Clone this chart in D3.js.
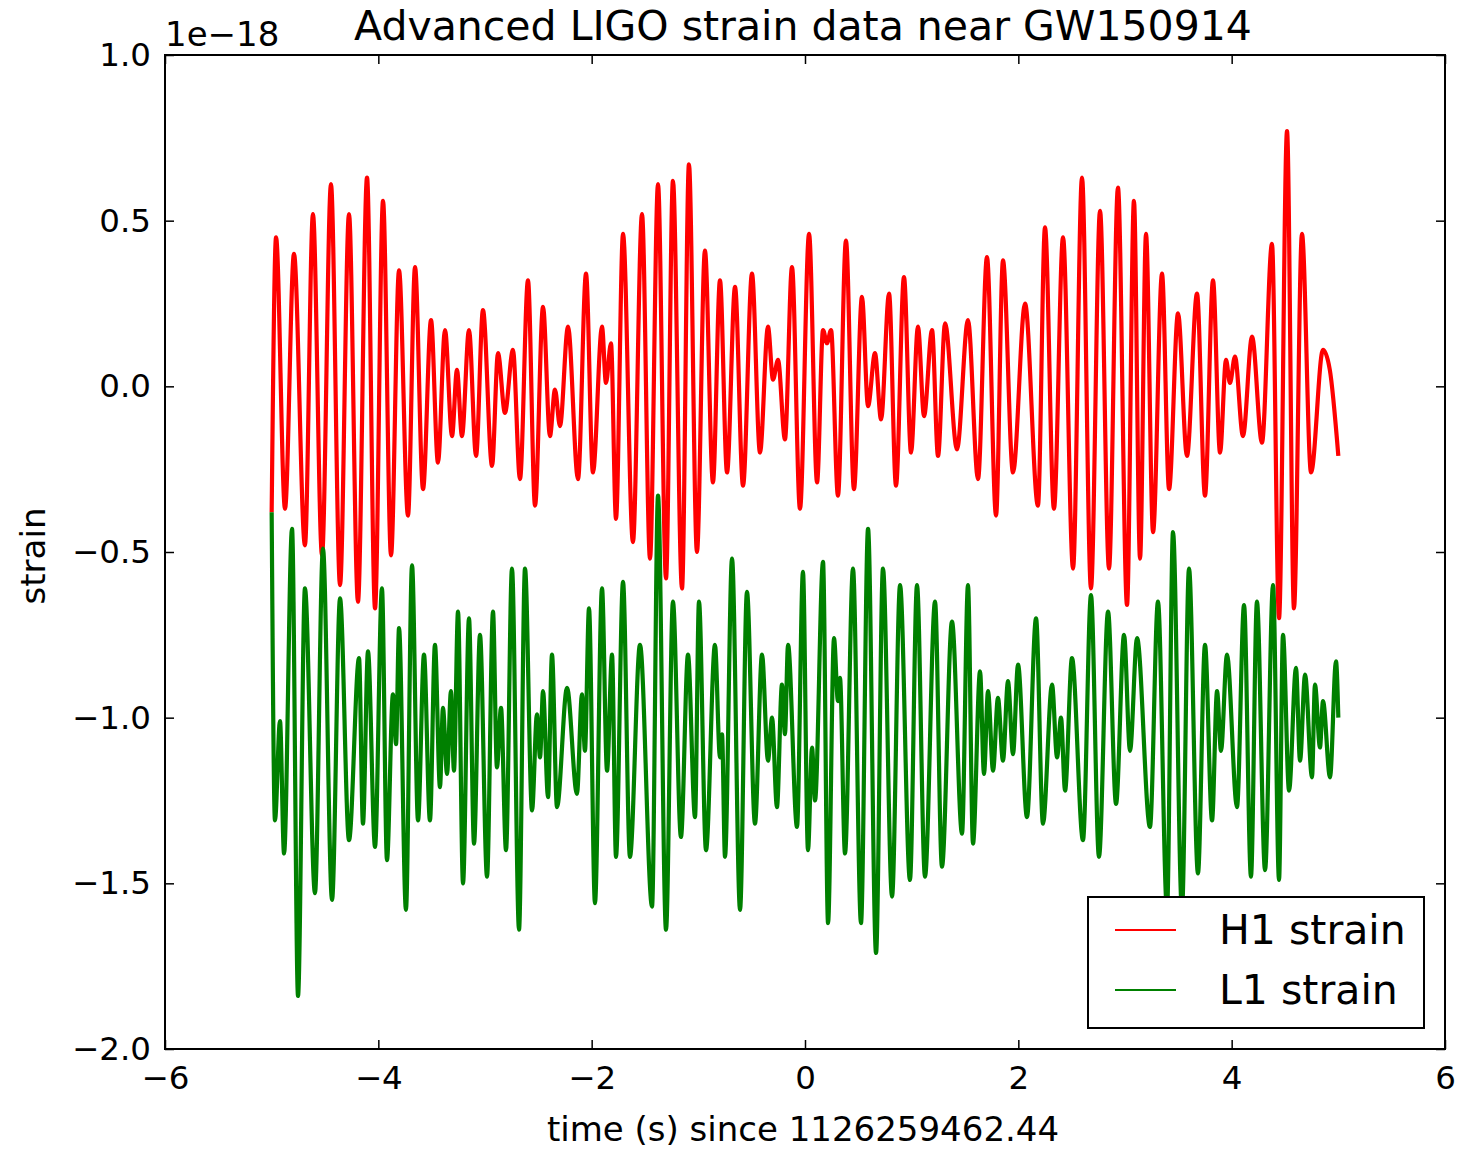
<!DOCTYPE html>
<html>
<head>
<meta charset="utf-8">
<script src="https://cdn.jsdelivr.net/npm/d3@7/dist/d3.min.js"></script>
<style>
  html, body { margin: 0; padding: 0; background: #fff; }
  text { font-family: "DejaVu Sans", sans-serif; fill: #000; }
</style>
</head>
<body>
<svg id="chart" width="1458" height="1149"></svg>
<script>
// ---- data (strain in units of 1e-18, time in s since 1126259462.44) ----
const h1Time = [-5.000,-4.959,-4.875,-4.791,-4.688,-4.613,-4.528,-4.444,-4.359,-4.275,
  -4.191,-4.106,-4.031,-3.956,-3.881,-3.806,-3.722,-3.656,-3.581,-3.506,
  -3.441,-3.375,-3.309,-3.263,-3.216,-3.150,-3.084,-3.019,-2.934,-2.878,
  -2.813,-2.738,-2.672,-2.597,-2.531,-2.456,-2.391,-2.344,-2.297,-2.222,
  -2.128,-2.053,-1.988,-1.903,-1.866,-1.819,-1.772,-1.706,-1.613,-1.528,
  -1.453,-1.378,-1.303,-1.238,-1.153,-1.088,-1.013,-0.938,-0.863,-0.797,
  -0.731,-0.656,-0.581,-0.497,-0.422,-0.347,-0.300,-0.253,-0.188,-0.122,
  -0.047,0.038,0.113,0.169,0.206,0.244,0.309,0.384,0.459,0.534,
  0.591,0.656,0.713,0.788,0.853,0.928,0.994,1.059,1.116,1.191,
  1.247,1.313,1.425,1.528,1.622,1.706,1.791,1.856,1.950,2.063,
  2.184,2.250,2.334,2.419,2.513,2.597,2.681,2.766,2.850,2.934,
  3.019,3.084,3.141,3.197,3.263,3.347,3.413,3.497,3.581,3.675,
  3.750,3.825,3.891,3.947,3.984,4.031,4.106,4.191,4.284,4.378,
  4.444,4.519,4.584,4.659,4.744,4.856,4.920,5.000];
const h1Strain = [-0.38,0.45,-0.37,0.40,-0.48,0.52,-0.51,0.61,-0.60,0.52,
  -0.65,0.63,-0.67,0.56,-0.51,0.35,-0.39,0.36,-0.31,0.20,
  -0.23,0.17,-0.15,0.05,-0.15,0.17,-0.21,0.23,-0.24,0.10,
  -0.08,0.11,-0.28,0.32,-0.36,0.24,-0.15,-0.01,-0.12,0.18,
  -0.28,0.34,-0.26,0.18,0.01,0.13,-0.40,0.46,-0.47,0.52,
  -0.52,0.61,-0.58,0.62,-0.61,0.67,-0.50,0.41,-0.29,0.32,
  -0.26,0.30,-0.30,0.34,-0.20,0.18,0.02,0.08,-0.16,0.36,
  -0.37,0.46,-0.29,0.17,0.13,0.17,-0.33,0.44,-0.31,0.27,
  -0.06,0.10,-0.10,0.28,-0.30,0.33,-0.20,0.18,-0.09,0.17,
  -0.21,0.19,-0.19,0.20,-0.28,0.39,-0.39,0.38,-0.26,0.25,
  -0.36,0.48,-0.37,0.45,-0.55,0.63,-0.61,0.53,-0.55,0.60,
  -0.66,0.56,-0.52,0.46,-0.44,0.34,-0.31,0.22,-0.21,0.28,
  -0.33,0.32,-0.20,0.08,0.01,0.09,-0.15,0.15,-0.17,0.43,
  -0.70,0.77,-0.67,0.46,-0.26,0.11,0.05,-0.21];

const l1Time = [-5.000,-4.969,-4.922,-4.884,-4.809,-4.753,-4.688,-4.594,-4.519,-4.434,
  -4.359,-4.275,-4.181,-4.144,-4.097,-4.031,-3.966,-3.919,-3.863,-3.834,
  -3.806,-3.741,-3.684,-3.628,-3.572,-3.516,-3.469,-3.422,-3.394,-3.356,
  -3.319,-3.291,-3.253,-3.206,-3.150,-3.103,-3.047,-2.981,-2.925,-2.888,
  -2.850,-2.803,-2.747,-2.681,-2.625,-2.559,-2.513,-2.484,-2.456,-2.409,
  -2.372,-2.325,-2.231,-2.138,-2.091,-2.063,-2.025,-1.969,-1.903,-1.856,
  -1.809,-1.772,-1.706,-1.641,-1.547,-1.434,-1.378,-1.303,-1.238,-1.163,
  -1.097,-1.031,-0.994,-0.928,-0.844,-0.797,-0.778,-0.750,-0.684,-0.609,
  -0.544,-0.469,-0.403,-0.347,-0.309,-0.263,-0.216,-0.188,-0.159,-0.075,
  -0.019,0.028,0.066,0.094,0.169,0.216,0.272,0.309,0.328,0.375,
  0.450,0.525,0.591,0.666,0.731,0.816,0.891,0.984,1.050,1.125,
  1.219,1.284,1.378,1.472,1.528,1.575,1.641,1.678,1.716,1.763,
  1.809,1.856,1.903,1.950,1.997,2.081,2.166,2.231,2.316,2.363,
  2.400,2.438,2.503,2.606,2.681,2.756,2.841,2.916,2.991,3.047,
  3.113,3.234,3.309,3.394,3.450,3.534,3.600,3.684,3.750,3.816,
  3.863,3.900,3.956,4.050,4.116,4.181,4.237,4.313,4.388,4.444,
  4.481,4.538,4.603,4.641,4.688,4.753,4.781,4.828,4.856,4.922,
  4.978,5.000];
const l1Strain = [-0.38,-1.31,-1.01,-1.41,-0.43,-1.84,-0.61,-1.53,-0.49,-1.55,
  -0.64,-1.37,-0.82,-1.32,-0.80,-1.39,-0.61,-1.43,-0.93,-1.08,
  -0.73,-1.58,-0.54,-1.31,-0.81,-1.31,-0.78,-1.21,-0.97,-1.17,
  -0.92,-1.16,-0.68,-1.50,-0.70,-1.38,-0.75,-1.48,-0.68,-1.15,
  -0.97,-1.40,-0.55,-1.64,-0.55,-1.28,-0.99,-1.12,-0.92,-1.24,
  -0.81,-1.27,-0.91,-1.23,-0.93,-1.10,-0.67,-1.56,-0.61,-1.16,
  -0.81,-1.42,-0.59,-1.42,-0.78,-1.57,-0.33,-1.64,-0.65,-1.36,
  -0.81,-1.30,-0.65,-1.40,-0.78,-1.12,-1.05,-1.42,-0.52,-1.58,
  -0.62,-1.32,-0.81,-1.13,-1.00,-1.27,-0.90,-1.05,-0.78,-1.33,
  -0.56,-1.40,-1.09,-1.25,-0.53,-1.62,-0.76,-0.95,-0.88,-1.41,
  -0.55,-1.62,-0.43,-1.71,-0.55,-1.54,-0.60,-1.49,-0.60,-1.48,
  -0.65,-1.45,-0.71,-1.35,-0.60,-1.38,-0.86,-1.17,-0.92,-1.16,
  -0.94,-1.13,-0.89,-1.11,-0.84,-1.30,-0.70,-1.32,-0.90,-1.12,
  -1.00,-1.22,-0.82,-1.37,-0.63,-1.42,-0.68,-1.26,-0.75,-1.10,
  -0.76,-1.33,-0.65,-1.58,-0.44,-1.58,-0.55,-1.47,-0.78,-1.31,
  -0.92,-1.10,-0.81,-1.27,-0.66,-1.48,-0.65,-1.46,-0.60,-1.49,
  -0.75,-1.22,-0.85,-1.13,-0.87,-1.18,-0.90,-1.09,-0.95,-1.18,
  -0.83,-1.00];

const xTicks = [-6, -4, -2, 0, 2, 4, 6];
const yTicks = [1.0, 0.5, 0.0, -0.5, -1.0, -1.5, -2.0];
const seriesNames = ["H1 strain", "L1 strain"];
const seriesColors = ["#ff0000", "#008000"];
const titleText = "Advanced LIGO strain data near GW150914";
const xLabelText = "time (s) since 1126259462.44";
const yLabelText = "strain";
const offsetText = "1e\u221218";

// ---- layout ----
const svg = d3.select("#chart");
const L = 165, R = 1445, T = 55, B = 1049;
const x = d3.scaleLinear().domain([-6, 6]).range([L, R]);
const y = d3.scaleLinear().domain([-2.0, 1.0]).range([B, T]);

const clipId = "plotclip";
svg.append("defs").append("clipPath").attr("id", clipId)
  .append("rect").attr("x", L).attr("y", T).attr("width", R - L).attr("height", B - T);

const line = d3.line().x(d => x(d[0])).y(d => y(d[1])).curve(d3.curveMonotoneX);
const h1 = h1Time.map((t, i) => [t, h1Strain[i]]);
const l1 = l1Time.map((t, i) => [t, l1Strain[i]]);

const g = svg.append("g").attr("clip-path", `url(#${clipId})`);
g.append("path").datum(h1).attr("d", line)
  .attr("fill", "none").attr("stroke", seriesColors[0]).attr("stroke-width", 4.2)
  .attr("stroke-linejoin", "round");
g.append("path").datum(l1).attr("d", line)
  .attr("fill", "none").attr("stroke", seriesColors[1]).attr("stroke-width", 4.2)
  .attr("stroke-linejoin", "round");

// ---- axes (ticks inside, on all sides) ----
const tickLen = 9;
const fmtX = d3.format("d");
const fmtY = d3.format(".1f");
const axB = d3.axisBottom(x).tickValues(xTicks).tickSizeInner(-tickLen).tickSizeOuter(0).tickPadding(17).tickFormat(fmtX);
const axT = d3.axisTop(x).tickValues(xTicks).tickSizeInner(-tickLen).tickSizeOuter(0).tickFormat("");
const axL = d3.axisLeft(y).tickValues(yTicks).tickSizeInner(-tickLen).tickSizeOuter(0).tickPadding(14).tickFormat(fmtY);
const axR = d3.axisRight(y).tickValues(yTicks).tickSizeInner(-tickLen).tickSizeOuter(0).tickFormat("");

function styleAxis(sel) {
  sel.select(".domain").remove();
  sel.selectAll(".tick line").attr("stroke", "#000").attr("stroke-width", 1.5);
  sel.selectAll(".tick text").style("font-family", "DejaVu Sans").style("font-size", "32.5px").attr("fill", "#000");
}
svg.append("g").attr("transform", `translate(0,${B})`).call(axB).call(styleAxis);
svg.append("g").attr("transform", `translate(0,${T})`).call(axT).call(styleAxis);
svg.append("g").attr("transform", `translate(${L},0)`).call(axL).call(styleAxis);
svg.append("g").attr("transform", `translate(${R},0)`).call(axR).call(styleAxis);

svg.append("rect").attr("x", L).attr("y", T).attr("width", R - L).attr("height", B - T)
  .attr("fill", "none").attr("stroke", "#000").attr("stroke-width", 2);

// ---- texts ----
svg.append("text").attr("x", 803).attr("y", 40).attr("text-anchor", "middle")
  .style("font-size", "41px").text(titleText);
svg.append("text").attr("x", L).attr("y", 46).attr("text-anchor", "start")
  .style("font-size", "34px").text(offsetText);
svg.append("text").attr("x", 803).attr("y", 1141).attr("text-anchor", "middle")
  .style("font-size", "34px").text(xLabelText);
svg.append("text").attr("transform", `translate(45,556) rotate(-90)`).attr("text-anchor", "middle")
  .style("font-size", "34px").text(yLabelText);

// ---- legend ----
const lg = svg.append("g");
lg.append("rect").attr("x", 1088).attr("y", 897).attr("width", 336).attr("height", 131)
  .attr("fill", "#fff").attr("stroke", "#000").attr("stroke-width", 2);
seriesNames.forEach((name, i) => {
  const yy = 930 + i * 60;
  lg.append("line").attr("x1", 1115).attr("x2", 1176).attr("y1", yy).attr("y2", yy)
    .attr("stroke", seriesColors[i]).attr("stroke-width", 2);
  lg.append("text").attr("x", 1219).attr("y", yy + 14).style("font-size", "41px").text(name);
});
</script>
</body>
</html>
